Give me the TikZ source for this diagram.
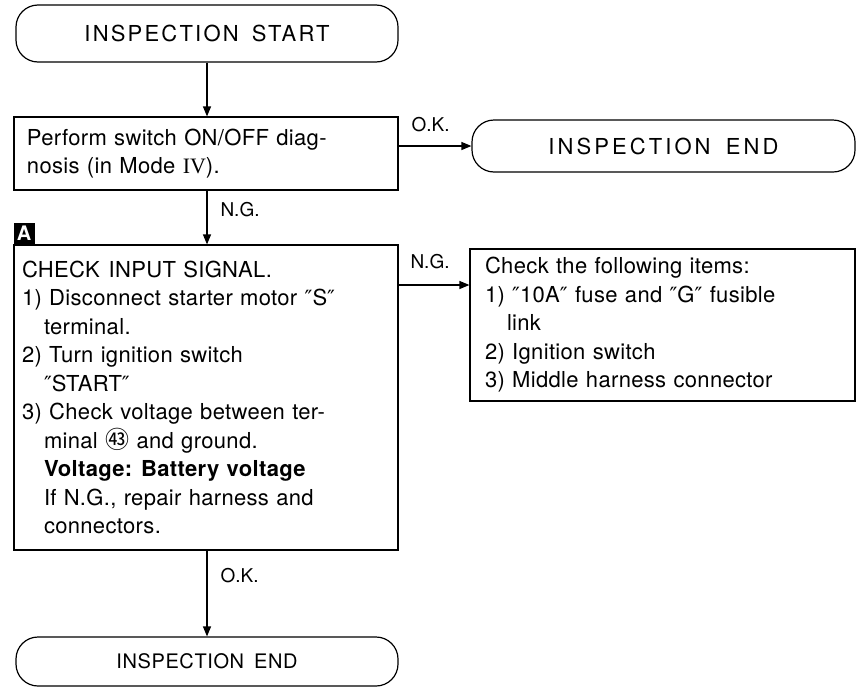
\documentclass[tikz,border=0pt]{standalone}
\usepackage{fontspec}
\setmainfont{TeX Gyre Heros}
\newfontfamily\cjk{Noto Sans CJK JP}
\newfontfamily\romanfont{Liberation Serif}
\newfontfamily\dvfont{DejaVu Sans}
\newcommand\dq{{\dvfont\fontsize{21}{21}\selectfont ″}}
\usetikzlibrary{arrows.meta,calc}
\begin{document}
\begin{tikzpicture}[x=1pt,y=-1pt,
  line width=1.2pt,
  base/.style={font=\fontsize{22}{28.5}\selectfont},
  term/.style={base,draw,rounded corners=22pt,minimum width=382pt,inner sep=0pt},
  procbox/.style={base,draw,align=left,inner ysep=0pt,
    execute at begin node={\addfontfeature{LetterSpace=1.5}}},
  lbl/.style={font=\fontsize{19}{22}\selectfont,anchor=west,inner sep=0pt},
  arr/.style={-{Triangle[length=10pt,width=8pt]}},
  badge/.style={fill=black,text=white,font=\fontsize{20}{20}\selectfont\bfseries,minimum size=21pt,inner sep=0pt}
]
\useasboundingbox (0,0) rectangle (856,691);

\node[term,minimum height=57pt] (start) at (207,33.5)
 {\addfontfeature{LetterSpace=10}INSPECTION\hspace{0.6em}START};

\node[procbox,text width=358pt,inner xsep=13pt,minimum height=73pt] (diag) at (206,153.5)
 {Perform switch ON/OFF diag-\\nosis (in Mode {\romanfont IV}).};

\node[term,minimum width=383pt,minimum height=52pt] (endR) at (663.5,146)
 {\addfontfeature{LetterSpace=14}INSPECTION\hspace{0.7em}END};

\node[badge] (badgeA) at (24,233) {A};

\node[procbox,text width=368pt,inner xsep=8pt,minimum height=305pt] (check) at (206,397.5)
 {CHECK\hspace{0.4em}INPUT SIGNAL.\\
  1) Disconnect starter motor \dq S\dq\\
  \hspace*{22pt}terminal.\\
  2) Turn ignition switch\\
  \hspace*{22pt}\dq START\dq\\
  3) Check voltage between ter-\\
  \hspace*{22pt}minal {\cjk\fontsize{24}{24}\selectfont ㊸} and ground.\\
  \hspace*{22pt}\textbf{Voltage:\hspace{0.4em}Battery voltage}\\
  \hspace*{22pt}If N.G., repair harness and\\
  \hspace*{22pt}connectors.};

\node[procbox,text width=355pt,inner xsep=15pt,minimum height=152pt] (items) at (662.5,325)
 {Check the following items:\\
  1) \dq 10A\dq{} fuse and \dq G\dq{} fusible\\
  \hspace*{22pt}link\\
  2) Ignition switch\\
  3) Middle harness connector};

\node[term,minimum height=49pt,font=\fontsize{20}{24}\selectfont] (endB) at (207,661.5)
 {\addfontfeature{LetterSpace=3}INSPECTION\hspace{0.5em}END};

% connectors
\draw[arr] (start.south) -- (start.south |- diag.north);
\draw[arr] (diag.east |- endR.west) -- (endR.west);
\node[lbl] (okA) at (411,125) {O.K.};
\draw[arr] (start.south |- diag.south) -- (start.south |- check.north);
\node[lbl] (ngA) at (220,210) {N.G.};
\coordinate (ngpt) at (398,285);
\draw[arr] (check.east |- ngpt) -- (items.west |- ngpt);
\node[lbl] (ngB) at (410,262) {N.G.};
\draw[arr] (start.south |- check.south) -- (start.south |- endB.north);
\node[lbl] (okB) at (220,576) {O.K.};
\end{tikzpicture}
\end{document}
